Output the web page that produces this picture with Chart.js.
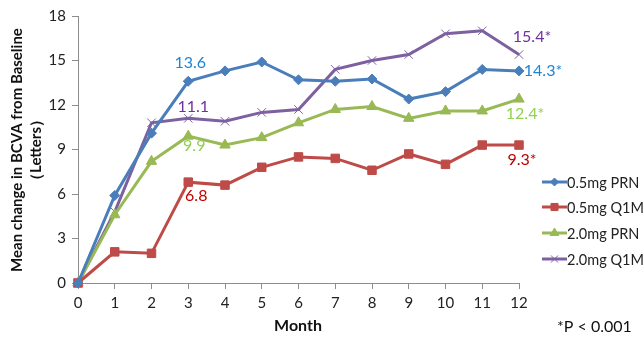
<!DOCTYPE html>
<html>
<head>
<meta charset="utf-8">
<script src="https://cdn.jsdelivr.net/npm/chart.js@4.4.1/dist/chart.umd.min.js"></script>
<style>
  html, body { margin: 0; padding: 0; background: #fff; }
  #wrap { width: 644px; height: 338px; position: relative; }
</style>
</head>
<body>
<div id="wrap"><canvas id="bcvaChart"></canvas></div>
<script>
// months and mean change in BCVA (letters)
const months = [0, 1, 2, 3, 4, 5, 6, 7, 8, 9, 10, 11, 12];
const prn05 = [0, 5.9, 10.1, 13.6, 14.3, 14.9, 13.7, 13.6, 13.75, 12.4, 12.9, 14.4, 14.3];
const q1m05 = [0, 2.1, 2.0, 6.8, 6.6, 7.8, 8.5, 8.4, 7.6, 8.7, 8.0, 9.3, 9.3];
const prn20 = [0, 4.6, 8.2, 9.9, 9.3, 9.8, 10.8, 11.7, 11.9, 11.1, 11.6, 11.6, 12.4];
const q1m20 = [0, 4.8, 10.8, 11.1, 10.9, 11.5, 11.7, 14.4, 15.0, 15.4, 16.8, 17.0, 15.4];
const seriesNames = ['0.5mg PRN', '0.5mg Q1M', '2.0mg PRN', '2.0mg Q1M'];
const yTicks = [0, 3, 6, 9, 12, 15, 18];

// value callouts: [series index, month, text, colour]
const callouts = [
    [0, 3, '13.6', '#1f84d4'],
    [3, 3, '11.1', '#7030a0'],
    [2, 3, '9.9', '#92d050'],
    [1, 3, '6.8', '#c00000'],
    [3, 12, '15.4*', '#7030a0'],
    [0, 12, '14.3*', '#1f84d4'],
    [2, 12, '12.4*', '#92d050'],
    [1, 12, '9.3*', '#c00000']
];

const FONT = 'Lato, "Liberation Sans", sans-serif';
const lineColors = ['#4a7ebb', '#be4b48', '#98b954', '#7d60a0'];
const markers = ['rectRot', 'rect', 'triangle', 'crossRot'];
const markerSizes = [5, 6, 6, 6];
const allData = [prn05, q1m05, prn20, q1m20];

const datasets = allData.map((vals, i) => ({
    label: seriesNames[i],
    data: months.map((m, k) => ({ x: m, y: vals[k] })),
    borderColor: lineColors[i],
    backgroundColor: lineColors[i],
    borderWidth: 3,
    pointStyle: markers[i],
    pointRadius: markerSizes[i],
    pointBorderWidth: 1,
    pointBorderColor: lineColors[i],
    tension: 0,
    clip: false
}));

// callouts, legend, axis titles and footnote
const extras = {
    id: 'extras',
    afterDatasetsDraw(chart) {
        const ctx = chart.ctx;
        const xs = chart.scales.x, ys = chart.scales.y;
        ctx.save();

        // callout offsets relative to their point
        const offs = {
            '13.6': [2, -18], '11.1': [5, -12], '9.9': [6, 10], '6.8': [8, 14],
            '15.4*': [13, -18], '14.3*': [24, 0], '12.4*': [6, 15], '9.3*': [3, 15]
        };
        ctx.font = '16px ' + FONT;
        ctx.textAlign = 'center';
        ctx.textBaseline = 'middle';
        callouts.forEach(([s, m, txt, col]) => {
            const px = xs.getPixelForValue(m);
            const py = ys.getPixelForValue(allData[s][m]);
            const o = offs[txt];
            ctx.fillStyle = col;
            ctx.fillText(txt, px + o[0], py + o[1]);
        });

        // legend
        const lx = 542, rows = [182, 207, 233, 259];
        seriesNames.forEach((name, i) => {
            const y = rows[i];
            ctx.strokeStyle = lineColors[i];
            ctx.fillStyle = lineColors[i];
            ctx.lineWidth = 3;
            ctx.beginPath();
            ctx.moveTo(lx, y);
            ctx.lineTo(lx + 25, y);
            ctx.stroke();
            ctx.lineWidth = 1;
            Chart.helpers.drawPoint(ctx, {
                pointStyle: markers[i], radius: markerSizes[i] - 1, rotation: 0, borderWidth: 1
            }, lx + 12.5, y);
            ctx.fillStyle = '#222';
            ctx.font = '14.5px ' + FONT;
            ctx.textAlign = 'left';
            ctx.fillText(name, lx + 25, y + 1);
        });

        // y axis title
        ctx.fillStyle = '#111';
        ctx.font = 'bold 15px ' + FONT;
        ctx.textAlign = 'center';
        ctx.save();
        ctx.translate(17, 150);
        ctx.rotate(-Math.PI / 2);
        ctx.fillText('Mean change in BCVA from Baseline', 0, 0);
        ctx.restore();
        ctx.save();
        ctx.translate(36, 150);
        ctx.rotate(-Math.PI / 2);
        ctx.fillText('（Letters）', 0, 0);
        ctx.restore();

        // x axis title and footnote
        ctx.font = 'bold 16px ' + FONT;
        ctx.fillText('Month', 298, 326);
        ctx.font = '16px ' + FONT;
        ctx.textAlign = 'left';
        ctx.fillText('*P < 0.001', 557, 327);
        ctx.restore();
    }
};

new Chart(document.getElementById('bcvaChart').getContext('2d'), {
    type: 'line',
    data: { datasets: datasets },
    options: {
        responsive: true,
        maintainAspectRatio: false,
        animation: false,
        layout: { padding: { left: 0, right: 125, top: 16, bottom: 0 } },
        plugins: {
            legend: { display: false },
            tooltip: { enabled: false }
        },
        scales: {
            x: {
                type: 'linear',
                min: 0,
                max: 12,
                afterFit: s => { s.height = 55; },
                afterBuildTicks: s => { s.ticks = months.map(v => ({ value: v })); },
                border: { color: '#8c8c8c', width: 1 },
                grid: { drawOnChartArea: false, drawTicks: true, tickLength: 6, color: '#8c8c8c' },
                ticks: { color: '#222', font: { size: 15, family: FONT }, padding: 5 }
            },
            y: {
                min: 0,
                max: 18,
                afterFit: s => { s.width = 78; },
                afterBuildTicks: s => { s.ticks = yTicks.map(v => ({ value: v })); },
                border: { color: '#8c8c8c', width: 1 },
                grid: { drawOnChartArea: false, drawTicks: true, tickLength: 6, color: '#8c8c8c' },
                ticks: { color: '#222', font: { size: 15, family: FONT }, padding: 6 }
            }
        }
    },
    plugins: [extras]
});
</script>
</body>
</html>
